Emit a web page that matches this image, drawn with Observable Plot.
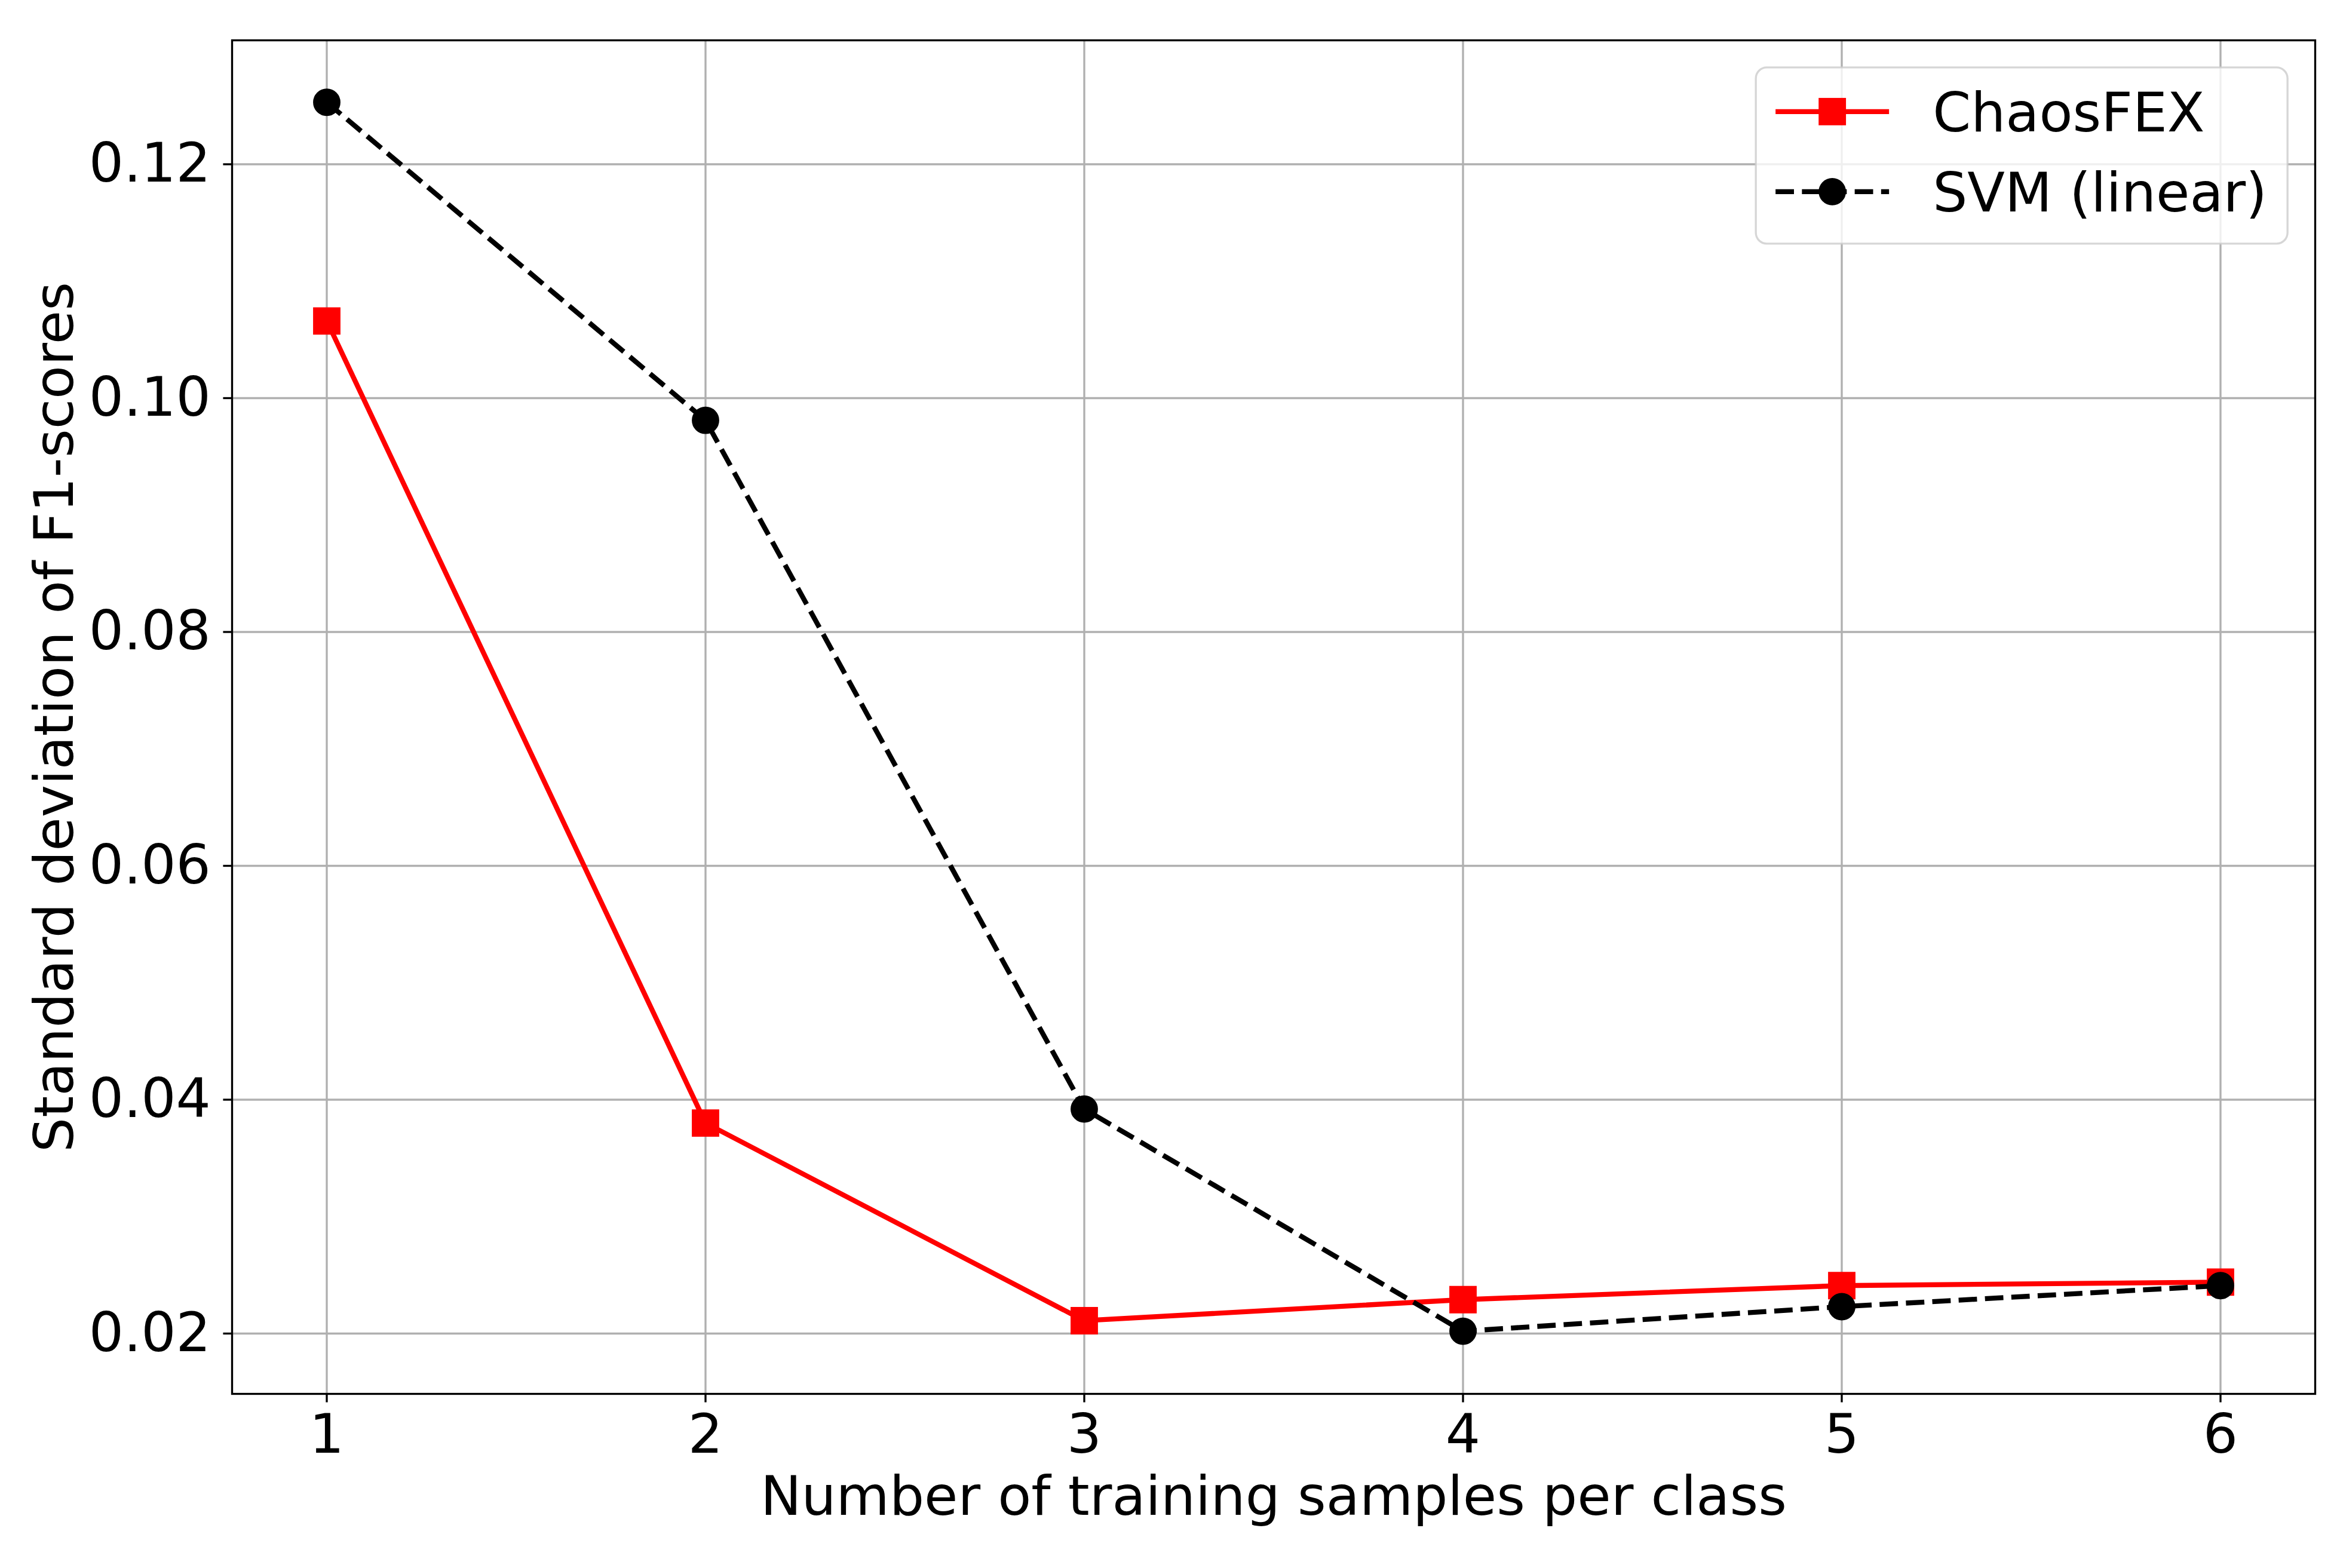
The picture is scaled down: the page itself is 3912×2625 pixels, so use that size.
<!DOCTYPE html>
<html>
<head>
<meta charset="utf-8">
<script src="https://cdn.jsdelivr.net/npm/d3@7"></script>
<script src="https://cdn.jsdelivr.net/npm/@observablehq/plot@0.6"></script>
<style>
html, body { margin: 0; padding: 0; background: #ffffff; }
#chart svg { display: block; }
</style>
</head>
<body>
<div id="chart"></div>
<script>
// ---- data ----
const samples = [1, 2, 3, 4, 5, 6];
const chaosFEX = [0.1066, 0.0380, 0.0211, 0.0229, 0.0241, 0.0244];
const svmLinear = [0.1253, 0.0981, 0.0392, 0.0202, 0.0223, 0.0241];
const seriesNames = ["ChaosFEX", "SVM (linear)"];
const xTicks = [1, 2, 3, 4, 5, 6];
const yTicks = [0.02, 0.04, 0.06, 0.08, 0.10, 0.12];
const xLabel = "Number of training samples per class";
const yLabel = "Standard deviation of F1-scores";

// ---- styling (matplotlib at 300 dpi) ----
const PT = 300 / 72;
const W = 3912, H = 2625;
const FONT = "DejaVu Sans";
const FS = 22 * PT;
const LW = 2 * PT;
const DASH = `${3.7 * LW},${1.6 * LW}`;
const MS = 10 * PT;
const MEW = 1 * PT;
const GRID = "#b0b0b0";

const chaosData = samples.map((x, i) => ({x, y: chaosFEX[i]}));
const svmData = samples.map((x, i) => ({x, y: svmLinear[i]}));

function legendMark(index, scales, values, dims) {
  const g = d3.create("svg:g");
  const pad = 0.5 * FS;
  const w = 890, h = 295;
  const x1 = dims.width - dims.marginRight - pad;
  const x0 = x1 - w;
  const y0 = dims.marginTop + pad;
  g.append("rect")
    .attr("x", x0).attr("y", y0).attr("width", w).attr("height", h)
    .attr("rx", 0.2 * FS).attr("ry", 0.2 * FS)
    .attr("fill", "white").attr("fill-opacity", 0.8)
    .attr("stroke", "#cccccc").attr("stroke-opacity", 0.8)
    .attr("stroke-width", 0.8 * PT);
  const rows = [
    {name: seriesNames[0], color: "red", dash: null, shape: "square"},
    {name: seriesNames[1], color: "black", dash: DASH, shape: "circle"}
  ];
  rows.forEach((r, i) => {
    const cy = y0 + 74 + i * 134;
    const hx0 = x0 + 33, hx1 = x0 + 223, hc = (hx0 + hx1) / 2;
    const ln = g.append("line")
      .attr("x1", hx0).attr("x2", hx1).attr("y1", cy).attr("y2", cy)
      .attr("stroke", r.color).attr("stroke-width", LW);
    if (r.dash) ln.attr("stroke-dasharray", r.dash);
    if (r.shape === "square") {
      g.append("rect")
        .attr("x", hc - MS / 2).attr("y", cy - MS / 2)
        .attr("width", MS).attr("height", MS)
        .attr("fill", r.color).attr("stroke", r.color).attr("stroke-width", MEW);
    } else {
      g.append("circle")
        .attr("cx", hc).attr("cy", cy).attr("r", MS / 2)
        .attr("fill", r.color).attr("stroke", r.color).attr("stroke-width", MEW);
    }
    g.append("text")
      .attr("x", x0 + 296).attr("y", cy + 33)
      .attr("text-anchor", "start")
      .attr("font-family", FONT).attr("font-size", FS)
      .attr("fill", "black")
      .text(r.name);
  });
  return g.node();
}

const chart = Plot.plot({
  width: W,
  height: H,
  marginLeft: 388,
  marginRight: 37,
  marginTop: 67,
  marginBottom: 292,
  style: {fontFamily: FONT, fontSize: FS + "px", color: "black", background: "white"},
  x: {domain: [0.75, 6.25]},
  y: {domain: [0.01484, 0.1306]},
  marks: [
    Plot.gridX({ticks: xTicks, stroke: GRID, strokeOpacity: 1, strokeWidth: 0.8 * PT}),
    Plot.gridY({ticks: yTicks, stroke: GRID, strokeOpacity: 1, strokeWidth: 0.8 * PT}),
    Plot.line(chaosData, {x: "x", y: "y", stroke: "red", strokeWidth: LW, strokeLinejoin: "round", strokeLinecap: "square"}),
    Plot.dot(chaosData, {x: "x", y: "y", symbol: "square", r: MS / Math.sqrt(Math.PI), fill: "red", stroke: "red", strokeWidth: MEW}),
    Plot.line(svmData, {x: "x", y: "y", stroke: "black", strokeWidth: LW, strokeDasharray: DASH, strokeLinejoin: "round", strokeLinecap: "butt"}),
    Plot.dot(svmData, {x: "x", y: "y", symbol: "circle", r: MS / 2, fill: "black", stroke: "black", strokeWidth: MEW}),
    Plot.axisX({
      ticks: xTicks, tickFormat: d => String(d),
      tickSize: 3.5 * PT, tickPadding: 18.4, strokeWidth: 0.8 * PT,
      fontSize: FS, fontFamily: FONT, fontVariant: "normal", fill: "black",
      label: xLabel, labelAnchor: "center", labelOffset: 202, labelArrow: "none"
    }),
    Plot.axisY({
      ticks: yTicks, tickFormat: d3.format(".2f"),
      tickSize: 3.5 * PT, tickPadding: 21, strokeWidth: 0.8 * PT,
      fontSize: FS, fontFamily: FONT, fontVariant: "normal", fill: "black",
      label: yLabel, labelAnchor: "center", labelOffset: 332, labelArrow: "none"
    }),
    Plot.frame({stroke: "black", strokeWidth: 0.8 * PT}),
    legendMark
  ]
});
document.getElementById("chart").appendChild(chart);
</script>
</body>
</html>
